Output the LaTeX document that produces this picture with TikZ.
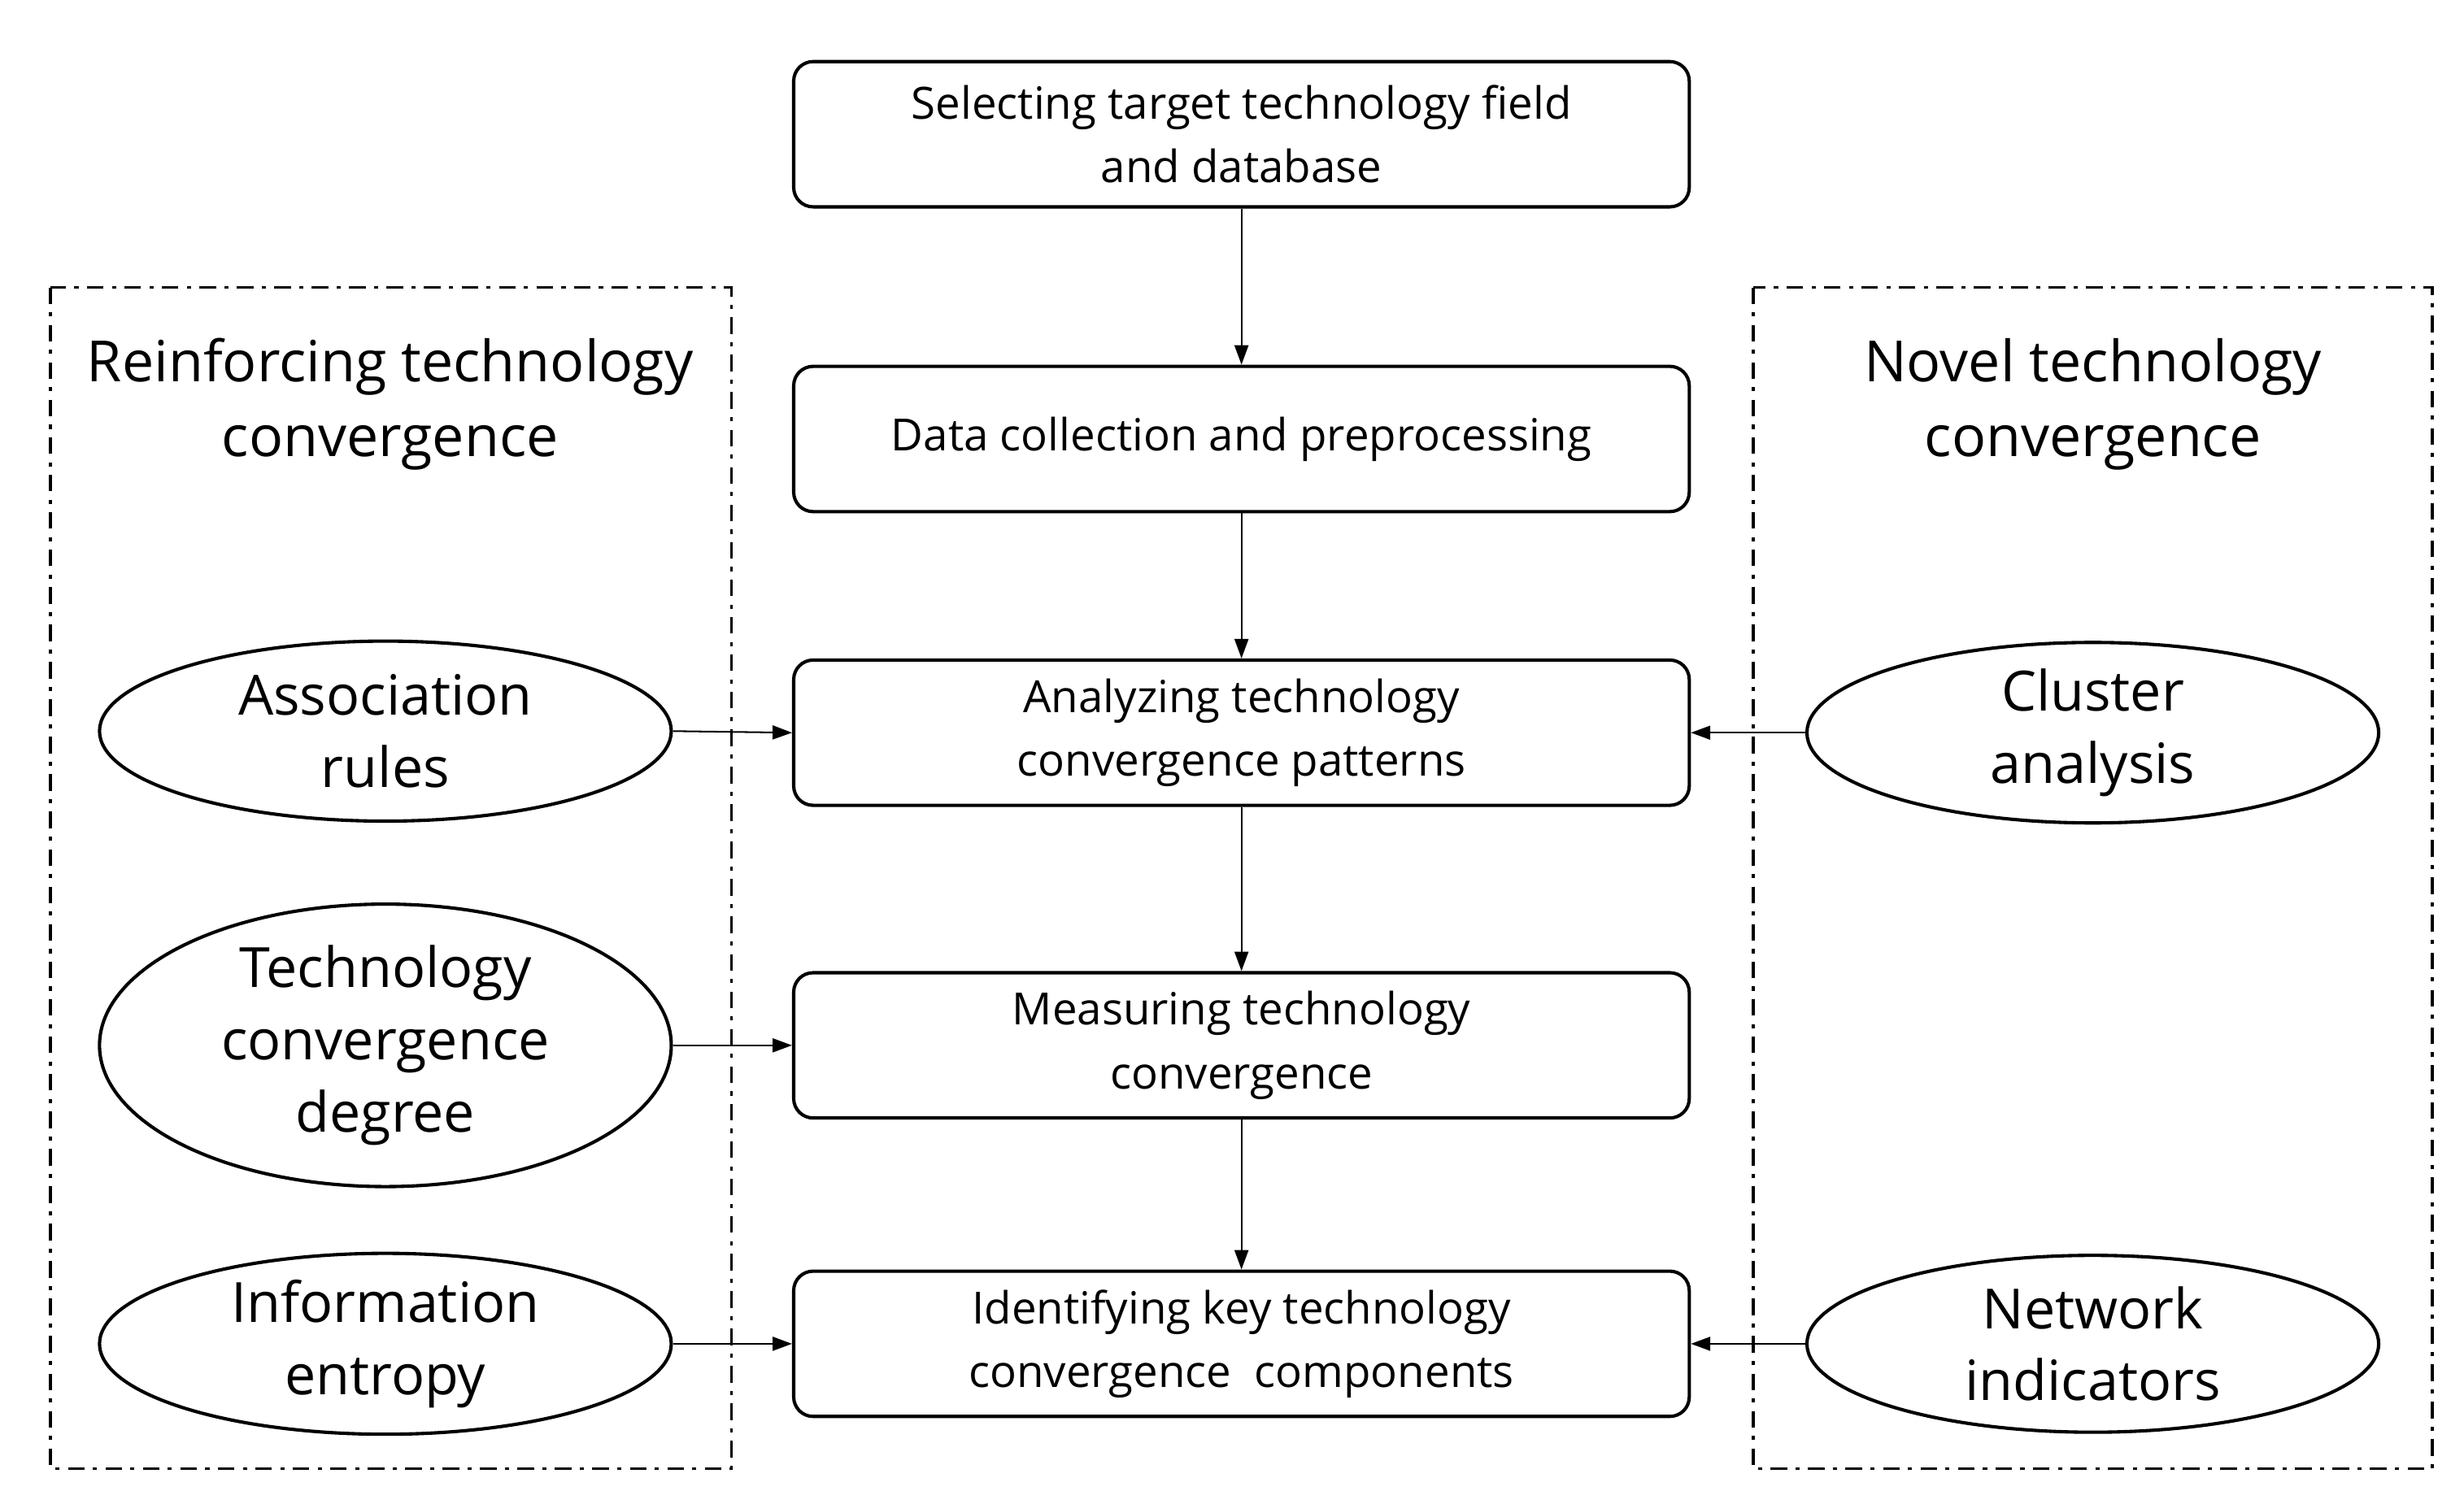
\documentclass[tikz,border=0pt]{standalone}
\usepackage{fontspec}
\setmainfont{Open Sans}
\usetikzlibrary{shapes.geometric,arrows.meta}
\begin{document}
\begin{tikzpicture}[x=0.02cm,y=-0.02cm,
 box/.style={draw,line width=1.2pt,rounded corners=7pt,minimum width=567*0.02cm,minimum height=92*0.02cm,align=center,font=\fontsize{16}{23}\selectfont,inner sep=0pt},
 ell/.style={draw,line width=1.2pt,ellipse,minimum width=362*0.02cm,align=center,font=\fontsize{20}{26}\selectfont,inner sep=0pt},
 frame/.style={draw,line width=1pt,dash pattern=on 6pt off 3pt on 1.5pt off 3pt},
 arr/.style={-{Triangle[length=7pt,width=5pt]},line width=0.6pt}]
\useasboundingbox (0,0) rectangle (1560,944);
\draw[frame] (32,182) rectangle (463,930);
\draw[frame] (1110,182) rectangle (1540,930);
\node[font=\fontsize{20.5}{27}\selectfont,align=center] (lt) at (247,256) {Reinforcing technology\\convergence};
\node[font=\fontsize{20.5}{27}\selectfont,align=center] (rt) at (1325,256) {Novel technology\\convergence};
\node[box] (b1) at (786,85) {Selecting target technology field\\and database};
\node[box] (b2) at (786,278) {Data collection and preprocessing};
\node[box] (b3) at (786,464) {Analyzing technology\\convergence patterns};
\node[box] (b4) at (786,662) {Measuring technology\\convergence};
\node[box] (b5) at (786,851) {Identifying key technology\\convergence\ \ components};
\node[ell,minimum height=114*0.02cm] (e1) at (244,463) {Association\\rules};
\node[ell,minimum height=159*0.02cm] (e2) at (244,662) {Technology\\convergence\\degree};
\node[ell,minimum height=112*0.02cm] (e3) at (244,851) {Information\\entropy};
\node[ell,minimum height=114*0.02cm] (e4) at (1325,464) {Cluster\\analysis};
\node[ell,minimum height=112*0.02cm] (e5) at (1325,851) {Network\\indicators};
\draw[arr] (b1) -- (b2);
\draw[arr] (b2) -- (b3);
\draw[arr] (b3) -- (b4);
\draw[arr] (b4) -- (b5);
\draw[arr] (e1.east) -- (b3.west);
\draw[arr] (e2.east) -- (b4.west);
\draw[arr] (e3.east) -- (b5.west);
\draw[arr] (e4.west) -- (b3.east);
\draw[arr] (e5.west) -- (b5.east);
\end{tikzpicture}
\end{document}
